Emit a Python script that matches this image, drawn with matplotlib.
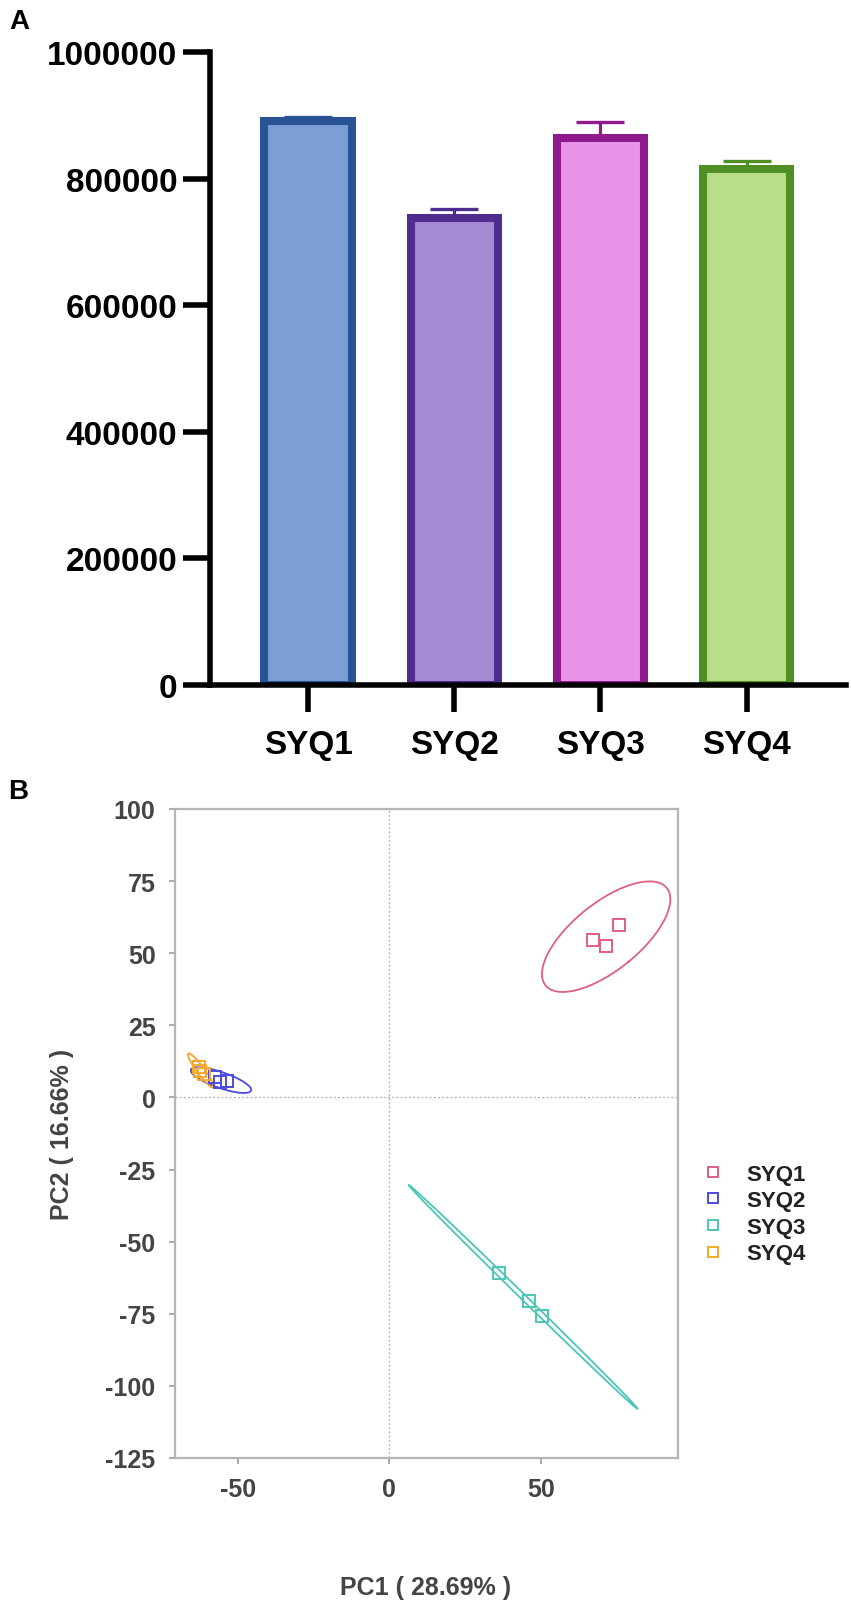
import numpy as np
import matplotlib
matplotlib.use("Agg")
import matplotlib.pyplot as plt
from matplotlib.lines import Line2D

plt.rcParams['font.family'] = ['Liberation Sans', 'DejaVu Sans']
plt.rcParams['font.weight'] = 'bold'
plt.rcParams['axes.unicode_minus'] = False

# ---- panel A data ----
groups = ['SYQ1', 'SYQ2', 'SYQ3', 'SYQ4']
bar_values = [890500, 738000, 864000, 815500]
bar_errors = [7500, 14500, 26000, 12000]
bar_fill = ['#7b9fd4', '#a589d3', '#e994e8', '#b9dd88']
bar_edge = ['#2a5395', '#4f2d8e', '#8f1a8b', '#4f8f24']
y_ticks_a = [0, 200000, 400000, 600000, 800000, 1000000]

# ---- panel B data (PC1, PC2 scores) ----
pc1_syq1 = [67.3, 71.6, 75.6]
pc2_syq1 = [54.7, 52.6, 59.9]
pc1_syq2 = [-57.4, -55.7, -53.5]
pc2_syq2 = [7.0, 5.4, 5.6]
pc1_syq3 = [36.0, 45.9, 50.5]
pc2_syq3 = [-60.9, -70.7, -75.9]
pc1_syq4 = [-62.9, -62.45, -61.3]
pc2_syq4 = [10.6, 9.2, 8.3]
pca_colors = ['#e0607f', '#4b4be0', '#4cc6b6', '#f5a82a']
pc1_label = 'PC1 ( 28.69% )'
pc2_label = 'PC2 ( 16.66% )'
x_ticks_b = [-50, 0, 50]
y_ticks_b = [100, 75, 50, 25, 0, -25, -50, -75, -100, -125]
ELLIPSE_SCALE = 5.1

fig = plt.figure(figsize=(8.51, 16.06), dpi=100)

# ================= Panel A =================
axA = fig.add_axes([210 / 851, 1 - 686 / 1606, (846 - 210) / 851, (686 - 53) / 1606])
x = np.arange(len(groups))
for i in range(len(groups)):
    axA.errorbar(x[i], bar_values[i], yerr=[[0], [bar_errors[i]]], fmt='none',
                 ecolor=bar_edge[i], elinewidth=2.3, capsize=17, capthick=2.4, zorder=1)
axA.bar(x, bar_values, width=0.596, color=bar_fill, edgecolor=bar_edge,
        linewidth=5.8, zorder=2)
axA.set_xlim(-0.67, 3.68)
axA.set_ylim(0, 1000000)
axA.set_yticks(y_ticks_a)
axA.set_yticklabels([str(v) for v in y_ticks_a])
axA.set_xticks(x)
axA.set_xticklabels(groups)
for s in ['top', 'right']:
    axA.spines[s].set_visible(False)
for s in ['left', 'bottom']:
    axA.spines[s].set_linewidth(4)
    axA.spines[s].set_zorder(3)
axA.tick_params(axis='y', direction='out', length=19.5, width=4, pad=4, labelsize=24)
axA.tick_params(axis='x', direction='out', length=19.5, width=4, pad=12, labelsize=24)
for lab in axA.get_xticklabels() + axA.get_yticklabels():
    lab.set_fontweight('bold')
fig.text(19 / 851, 1 - 22 / 1606, 'A', fontsize=20, fontweight='bold', ha='center', va='center')

# ================= Panel B =================
axB = fig.add_axes([175 / 851, 1 - 1459 / 1606, (678 - 175) / 851, (1459 - 810) / 1606])
axB.set_xlim(-70.7, 95.2)
axB.set_ylim(-125, 100)
axB.axhline(0, color='#b8b8b8', lw=1.0, ls=(0, (1.5, 1.5)), zorder=1)
axB.axvline(0, color='#b8b8b8', lw=1.0, ls=(0, (1.5, 1.5)), zorder=1)

pca_sets = [(pc1_syq1, pc2_syq1), (pc1_syq2, pc2_syq2),
            (pc1_syq3, pc2_syq3), (pc1_syq4, pc2_syq4)]
t = np.linspace(0, 2 * np.pi, 300)
handles = []
for (px, py), col, name in zip(pca_sets, pca_colors, groups):
    pts = np.column_stack([px, py])
    center = pts.mean(axis=0)
    vals, vecs = np.linalg.eigh(np.cov(pts.T))
    vals = np.clip(vals, 0, None)
    circ = np.vstack([np.cos(t), np.sin(t)]) * (ELLIPSE_SCALE * np.sqrt(vals))[:, None]
    ell = vecs @ circ
    axB.plot(center[0] + ell[0], center[1] + ell[1], color=col, lw=1.3, zorder=2)
    axB.plot(px, py, ls='none', marker='s', ms=8, mfc='none', mec=col, mew=1.4, zorder=3)
    handles.append(Line2D([], [], ls='none', marker='s', ms=7, mfc='none', mec=col, mew=1.4))

axB.set_xticks(x_ticks_b)
axB.set_yticks(y_ticks_b)
for s in axB.spines.values():
    s.set_color('#b5b5b5')
    s.set_linewidth(1.6)
axB.tick_params(direction='out', length=4, width=1.4, color='#aaaaaa',
                labelsize=18, labelcolor='#444444', pad=10)
for lab in axB.get_xticklabels() + axB.get_yticklabels():
    lab.set_fontweight('bold')
fig.text(18 / 851, 1 - 792 / 1606, 'B', fontsize=20, fontweight='bold', ha='center', va='center')
fig.text(426 / 851, 1 - 1588 / 1606, pc1_label, fontsize=18, fontweight='bold',
         color='#444444', ha='center', va='center')
fig.text(62 / 851, 1 - 1134 / 1606, pc2_label, fontsize=18, fontweight='bold',
         color='#444444', ha='center', va='center', rotation=90)

fig.legend(handles, groups, loc='center left', bbox_to_anchor=(691 / 851, 1 - 1215 / 1606),
           frameon=False, borderpad=0, handlelength=1.0, handletextpad=1.0,
           labelspacing=0.25, prop={'size': 16, 'weight': 'bold'}, labelcolor='#222222')

fig.savefig('out.png', dpi=100)
